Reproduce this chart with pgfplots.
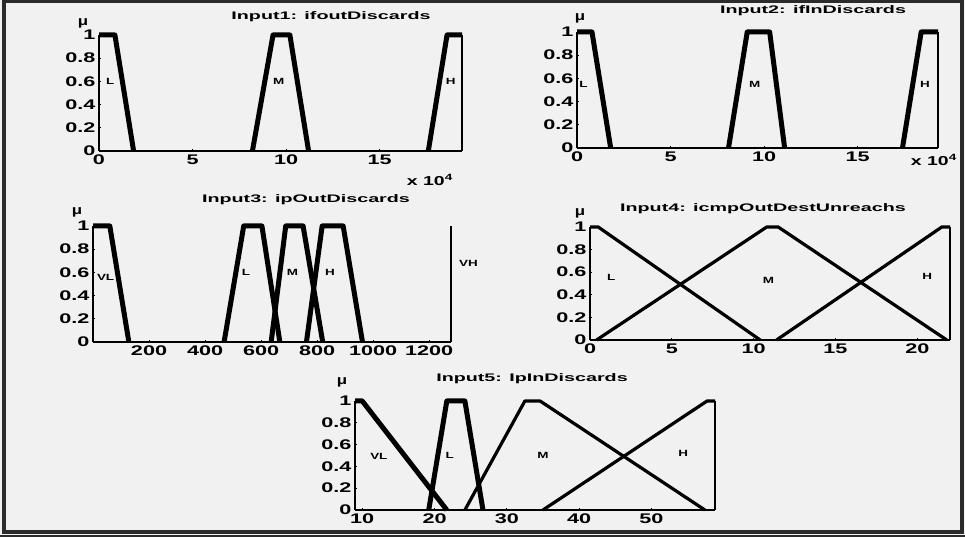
\documentclass[border=0pt]{standalone}
\usepackage{fontspec}
\setmainfont{Liberation Sans}
\usepackage{graphicx}
\usepackage{pgfplots}
\pgfplotsset{compat=1.18}
\definecolor{panelbg}{HTML}{F1F1F1}
\definecolor{framec}{HTML}{2B2B2B}
% MATLAB-like text is stretched sideways in the reference
\newcommand\wide[2][1.55]{\scalebox{#1}[1]{#2}}
\newcommand\lbl[3]{\node[font=\fontsize{9}{9}\selectfont\bfseries] at (axis cs:#1,#2) {\wide[1.5]{#3}};}
\pgfplotsset{
  mf/.style={
    scale only axis, anchor=south west,
    axis x line*=bottom, axis y line*=left,
    axis line style={line width=1.8bp, -},
    ymin=0, ymax=1, ytick={0,0.2,0.4,0.6,0.8,1},
    major tick length=2bp, tick align=inside,
    tick style={line width=0.8bp, black},
    /pgf/number format/assume math mode=true,
    /pgf/number format/1000 sep={},
    tick label style={font=\fontsize{14}{14}\selectfont\bfseries},
    xticklabel={\wide{\pgfmathprintnumber{\tick}}},
    yticklabel={\wide{\pgfmathprintnumber{\tick}}},
    clip=false,
    every axis plot/.append style={line join=round, black},
  },
  fat/.style={line width=5bp},
  slim/.style={line width=3.2bp},
  edge/.style={line width=2.4bp},
}
\begin{document}
\begin{tikzpicture}[x=1bp,y=1bp]
\fill[panelbg] (0,0) rectangle (965,537);
\path[use as bounding box] (0,0) rectangle (965,537);

% ---- Input1
\begin{axis}[mf, at={(99bp,386bp)}, width=363bp, height=116bp,
  xmin=0, xmax=19.4, xtick={0,5,10,15}]
\addplot[fat] coordinates {(0,1)(0.85,1)(1.85,0)};
\addplot[fat] coordinates {(8.2,0)(9.3,1)(10.2,1)(11.2,0)};
\addplot[fat] coordinates {(17.6,0)(18.6,1)(19.4,1)};
\addplot[edge] coordinates {(19.4,1)(19.4,0)};
\lbl{0.6}{0.6}{L}
\lbl{9.6}{0.6}{M}
\lbl{18.8}{0.6}{H}
\end{axis}

% ---- Input2
\begin{axis}[mf, at={(577bp,389bp)}, width=361bp, height=116bp,
  xmin=0, xmax=19.3, xtick={0,5,10,15}]
\addplot[fat] coordinates {(0,1)(0.8,1)(1.8,0)};
\addplot[fat] coordinates {(8.1,0)(9.1,1)(10.3,1)(11.1,0)};
\addplot[fat] coordinates {(17.4,0)(18.4,1)(19.3,1)};
\addplot[edge] coordinates {(19.3,1)(19.3,0)};
\lbl{0.35}{0.55}{L}
\lbl{9.5}{0.55}{M}
\lbl{18.6}{0.55}{H}
\end{axis}

% ---- Input3
\begin{axis}[mf, at={(93bp,195bp)}, width=358bp, height=116bp,
  xmin=0, xmax=1278, xtick={200,400,600,800,1000,1200}]
\addplot[fat] coordinates {(0,1)(60,1)(128,0)};
\addplot[fat] coordinates {(468,0)(538,1)(603,1)(667,0)};
\addplot[fat] coordinates {(636,0)(688,1)(750,1)(820,0)};
\addplot[fat] coordinates {(762,0)(818,1)(893,1)(962,0)};
\addplot[edge] coordinates {(1278,0)(1278,1)};
\lbl{45}{0.56}{VL}
\lbl{546}{0.6}{L}
\lbl{712}{0.6}{M}
\lbl{846}{0.6}{H}
\lbl{1340}{0.68}{VH}
\end{axis}

% ---- Input4
\begin{axis}[mf, at={(590bp,197bp)}, width=360bp, height=113bp,
  xmin=0, xmax=22, xtick={0,5,10,15,20}]
\addplot[slim] coordinates {(0,1)(0.5,1)(10.4,0)};
\addplot[slim] coordinates {(0.4,0)(10.8,1)(11.5,1)(21.8,0)};
\addplot[slim] coordinates {(11.4,0)(21.5,1)(22,1)};
\addplot[edge] coordinates {(22,1)(22,0)};
\lbl{1.3}{0.55}{L}
\lbl{10.9}{0.53}{M}
\lbl{20.6}{0.56}{H}
\end{axis}

% ---- Input5
\begin{axis}[mf, at={(355bp,27bp)}, width=360bp, height=109bp,
  xmin=9, xmax=58.8, xtick={10,20,30,40,50}]
\addplot[fat] coordinates {(9,1)(10,1)(21.7,0)};
\addplot[fat] coordinates {(19.2,0)(21.7,1)(24.2,1)(26.7,0)};
\addplot[slim] coordinates {(24.2,0)(32.5,1)(34.6,1)(57.4,0)};
\addplot[slim] coordinates {(35,0)(57.7,1)(58.8,1)};
\addplot[edge] coordinates {(58.8,1)(58.8,0)};
\lbl{12.3}{0.49}{VL}
\lbl{22.1}{0.5}{L}
\lbl{35}{0.5}{M}
\lbl{54.4}{0.52}{H}
\end{axis}

% titles, mu labels and exponent notes
\begin{scope}[every node/.style={font=\fontsize{11}{11}\selectfont\bfseries}]
\node at (331,520) {\wide[1.8]{Input1: ifoutDiscards}};
\node at (813,526) {\wide[1.8]{Input2: ifInDiscards}};
\node at (306,337) {\wide[1.8]{Input3: ipOutDiscards}};
\node at (763,328) {\wide[1.8]{Input4: icmpOutDestUnreachs}};
\node at (532,158) {\wide[1.8]{Input5: IpInDiscards}};
\end{scope}
\begin{scope}[every node/.style={font=\fontsize{13}{13}\selectfont\bfseries}]
\node at (83,514) {\wide[1.3]{μ}};
\node at (580,519) {\wide[1.3]{μ}};
\node at (77,325) {\wide[1.3]{μ}};
\node at (580,324) {\wide[1.3]{μ}};
\node at (342,155) {\wide[1.3]{μ}};
\node at (430,357) {\wide[1.5]{x 10\textsuperscript{4}}};
\node at (934,377) {\wide[1.5]{x 10\textsuperscript{4}}};
\end{scope}

% outer frame
\draw[line width=3.5bp, framec] (4,5) rectangle (962,535.5);
\draw[line width=1.5bp, framec] (0,0.8) -- (965,0.8);
\end{tikzpicture}
\end{document}
